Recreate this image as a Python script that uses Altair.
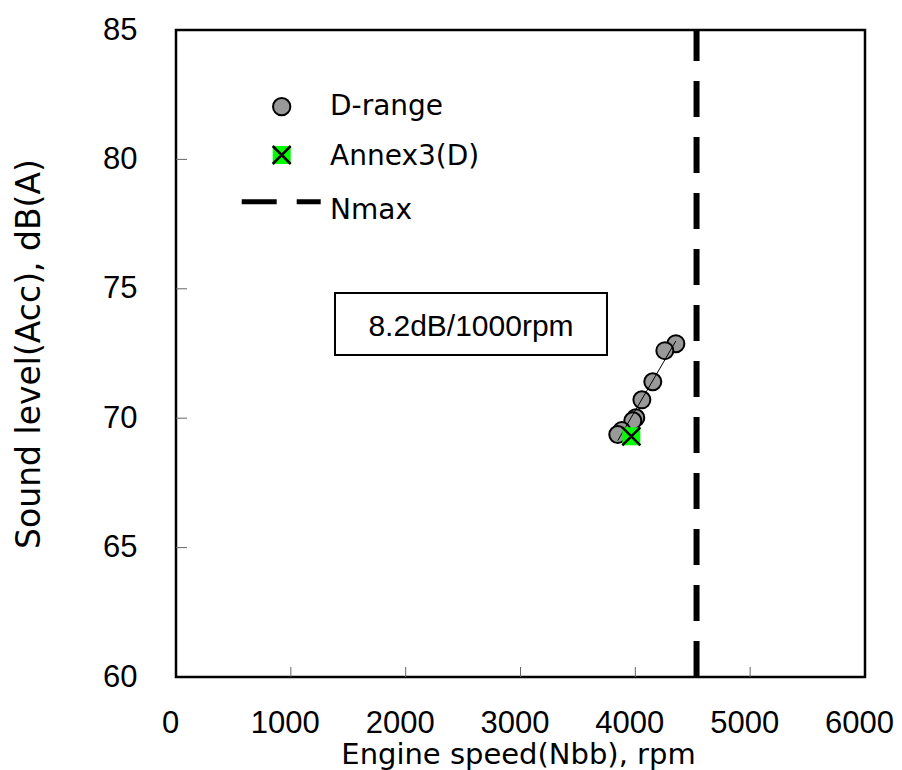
import altair as alt
import pandas as pd

# ---- data ----
drange_rpm = [4353, 4257, 4152, 4057, 4004, 3978, 3882, 3847]
drange_db = [72.88, 72.61, 71.41, 70.71, 70.02, 69.90, 69.52, 69.37]
annex_rpm = [3965]
annex_db = [69.30]
nmax_rpm = [4533]
x_ticks = [0, 1000, 2000, 3000, 4000, 5000, 6000]
y_ticks = [60, 65, 70, 75, 80, 85]
x_inner_ticks = [1000, 2000, 3000, 4000, 5000]
y_inner_ticks = [65, 70, 75, 80]
legend_labels = ["D-range", "Annex3(D)", "Nmax"]
slope_label = ["8.2dB/1000rpm"]
x_title = "Engine speed(Nbb), rpm"
y_title = "Sound level(Acc), dB(A)"

W, H = 689, 647
xs = alt.Scale(domain=[0, 6000], nice=False, zero=False)
ys = alt.Scale(domain=[60, 85], nice=False, zero=False)

df = pd.DataFrame({"rpm": drange_rpm, "db": drange_db})
dfa = pd.DataFrame({"rpm": annex_rpm, "db": annex_db})
dfn = pd.DataFrame({"nmax": nmax_rpm})
dfxt = pd.DataFrame({"t": x_inner_ticks})
dfyt = pd.DataFrame({"t": y_inner_ticks})
one = pd.DataFrame({"label": slope_label})

x_axis = alt.Axis(values=x_ticks, format="d", title=x_title, labelFont="Liberation Sans",
                  labelFontSize=31, labelColor="black", labelPadding=31, labelOffset=-6,
                  labelFlush=False, ticks=False, domain=False, grid=False,
                  titleFont="DejaVu Sans", titleFontSize=29, titleFontWeight="normal",
                  titleColor="black", titleX=342, titleY=86, titleBaseline="alphabetic",
                  titleAlign="center")
y_axis = alt.Axis(values=y_ticks, format="d", title=y_title, labelFont="Liberation Sans",
                  labelFontSize=31, labelColor="black", labelPadding=39, labelFlush=False,
                  ticks=False, domain=False, grid=False,
                  titleFont="DejaVu Sans", titleFontSize=33, titleFontWeight="normal",
                  titleColor="black", titleX=-137, titleY=H / 2, titleBaseline="alphabetic",
                  titleAlign="center")

points = alt.Chart(df).mark_circle(size=289, fill="#999999", stroke="black",
                                   strokeWidth=2, opacity=1).encode(
    x=alt.X("rpm:Q", scale=xs, axis=x_axis),
    y=alt.Y("db:Q", scale=ys, axis=y_axis),
)

fit = alt.Chart(df).transform_regression("rpm", "db").mark_line(
    color="black", strokeWidth=1).encode(
    x=alt.X("rpm:Q", scale=xs), y=alt.Y("db:Q", scale=ys))

annex_sq = alt.Chart(dfa).mark_point(shape="square", size=324, filled=True,
                                     fill="#00ff00", strokeWidth=0, opacity=1).encode(
    x=alt.X("rpm:Q", scale=xs), y=alt.Y("db:Q", scale=ys))
xpath = "M-1,-1L1,1M1,-1L-1,1"
annex_x = alt.Chart(dfa).mark_point(shape=xpath, size=324, filled=False,
                                    stroke="black", strokeWidth=2.5, opacity=1).encode(
    x=alt.X("rpm:Q", scale=xs), y=alt.Y("db:Q", scale=ys))

nmax = alt.Chart(dfn).mark_rule(color="black", strokeWidth=6, strokeDash=[36, 20]).encode(
    x=alt.X("nmax:Q", scale=xs), y=alt.value(H), y2=alt.value(0))

xt = alt.Chart(dfxt).mark_rule(color="#666666", strokeWidth=1).encode(
    x=alt.X("t:Q", scale=xs), y=alt.value(H), y2=alt.value(H - 10))
yt = alt.Chart(dfyt).mark_rule(color="#666666", strokeWidth=1).encode(
    y=alt.Y("t:Q", scale=ys), x=alt.value(0), x2=alt.value(11))

# legend (drawn in pixel space of the plot)
lg_c = alt.Chart(one).mark_circle(size=300, fill="#999999", stroke="black", strokeWidth=2,
                                  opacity=1).encode(x=alt.value(105.7), y=alt.value(76.7))
lg_sq = alt.Chart(one).mark_point(shape="square", size=324, filled=True, fill="#00ff00",
                                  strokeWidth=0, opacity=1).encode(
    x=alt.value(105.7), y=alt.value(125))
lg_x = alt.Chart(one).mark_point(shape=xpath, size=324, filled=False, stroke="black",
                                 strokeWidth=2.5, opacity=1).encode(
    x=alt.value(105.7), y=alt.value(125))
lg_line = alt.Chart(one).mark_rule(color="black", strokeWidth=5, strokeDash=[35, 20]).encode(
    x=alt.value(65.7), x2=alt.value(144.7), y=alt.value(171.7))
lg_t = [
    alt.Chart(one).mark_text(text=legend_labels[i], align="left", baseline="alphabetic",
                             font="DejaVu Sans", fontSize=28, color="black").encode(
        x=alt.value(154), y=alt.value(yy))
    for i, yy in enumerate([85, 135, 189])
]

box = alt.Chart(one).mark_rect(fill="white", stroke="black", strokeWidth=2).encode(
    x=alt.value(159), x2=alt.value(431), y=alt.value(263), y2=alt.value(325))
box_t = alt.Chart(one).mark_text(align="center", baseline="alphabetic",
                                 font="Liberation Sans", fontSize=30, color="black").encode(
    text="label:N", x=alt.value(295), y=alt.value(305.5))

chart = alt.layer(
    xt, yt, box, box_t, nmax, points, fit, annex_sq, annex_x,
    lg_c, lg_sq, lg_x, lg_line, *lg_t
).properties(
    width=W, height=H,
    autosize=alt.AutoSizeParams(type="none"),
    padding={"left": 176, "top": 30, "right": 37, "bottom": 93},
    background="white",
).configure_view(stroke="black", strokeWidth=2.5)

chart.save("out.html", embed_options={"renderer": "svg", "actions": False})
